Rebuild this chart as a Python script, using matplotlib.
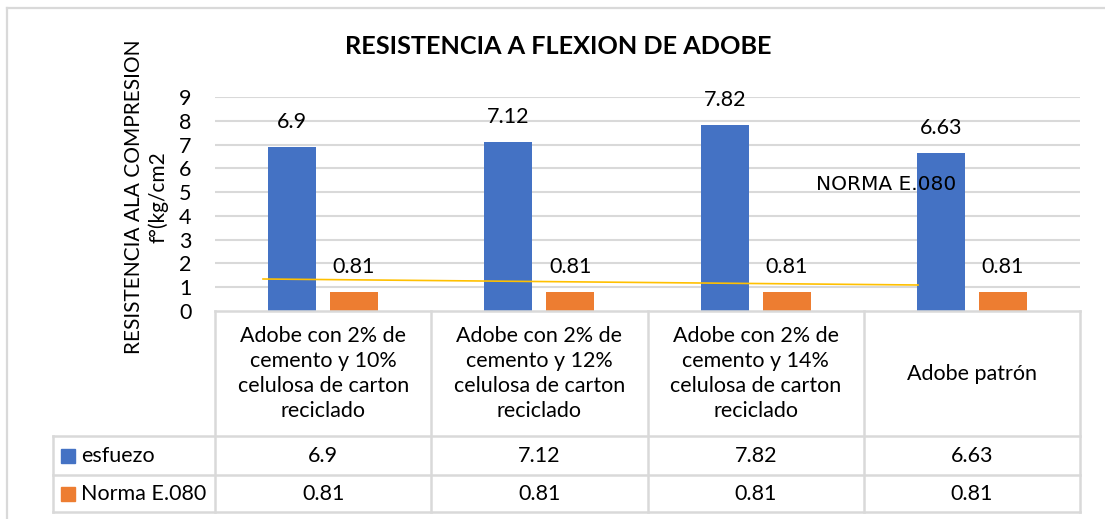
import matplotlib
matplotlib.use("Agg")
import matplotlib.pyplot as plt
from matplotlib.lines import Line2D
from matplotlib.patches import Rectangle

categories = [
    "Adobe con 2% de\ncemento y 10%\ncelulosa de carton\nreciclado",
    "Adobe con 2% de\ncemento y 12%\ncelulosa de carton\nreciclado",
    "Adobe con 2% de\ncemento y 14%\ncelulosa de carton\nreciclado",
    "Adobe patrón",
]
series_names = ["esfuezo", "Norma E.080"]
esfuerzo = [6.9, 7.12, 7.82, 6.63]
norma = [0.81, 0.81, 0.81, 0.81]
yticks = list(range(0, 10))

BLUE = "#4472C4"
ORANGE = "#ED7D31"
GRID = "#D9D9D9"
FONT = "Lato"

W, H = 1105, 519
fig = plt.figure(figsize=(W / 100, H / 100), dpi=100)
plt.rcParams["font.family"] = [FONT, "DejaVu Sans"]


def fx(x):
    return x / W


def fy(y):
    return 1 - y / H


# outer border
fig.add_artist(Line2D([fx(7), fx(7)], [fy(8), fy(519)], color=GRID, lw=1.6))
fig.add_artist(Line2D([fx(7), fx(1105)], [fy(8), fy(8)], color=GRID, lw=1.6))

# main axes
L, R, B, T = 215, 1080, 311, 97
ax = fig.add_axes([fx(L), fy(B), fx(R) - fx(L), fy(T) - fy(B)])
n = len(categories)
x = list(range(n))
bw = 0.222
off = 0.143
ax.bar([i - off for i in x], esfuerzo, width=bw, color=BLUE, zorder=3)
ax.bar([i + off for i in x], norma, width=bw, color=ORANGE, zorder=3)
for i in x:
    ax.annotate(f"{esfuerzo[i]:g}", (i - off, esfuerzo[i]), xytext=(0, 18),
                textcoords="offset points", ha="center", va="center", fontsize=15.5)
    ax.annotate(f"{norma[i]:g}", (i + off, norma[i]), xytext=(0, 18),
                textcoords="offset points", ha="center", va="center", fontsize=15.5)
ax.set_xlim(-0.5, n - 0.5)
ax.set_ylim(0, 9)
ax.set_yticks(yticks)
ax.set_yticklabels([str(t) for t in yticks], fontsize=15.5)
ax.tick_params(axis="y", length=0, pad=17)
ax.set_xticks([])
for t in yticks[1:]:
    ax.axhline(t, color=GRID, lw=1.5, zorder=1)
for s in ax.spines.values():
    s.set_visible(False)
ax.set_facecolor("none")

# title and y label
fig.text(fx(558), fy(47), "RESISTENCIA A FLEXION DE ADOBE", ha="center", va="center",
         fontsize=18.2, fontweight="bold")
fig.text(fx(146), fy(197), "RESISTENCIA ALA COMPRESION\nf°(kg/cm2", ha="center", va="center",
         rotation=90, fontsize=15, linespacing=1.25)

# annotation line and text (drawn shape)
fig.add_artist(Line2D([fx(263), fx(918)], [fy(279), fy(285)], color="#FFC000", lw=1.2, zorder=5))
fig.text(fx(886), fy(185), "NORMA E.080", ha="center", va="center", fontsize=14.5,
         family="DejaVu Sans", color="black", zorder=6)

# data table
colx = [L + (R - L) * i / n for i in range(n + 1)]
rows_y = [B, 436, 475, 512]
for cx in colx:
    fig.add_artist(Line2D([fx(cx), fx(cx)], [fy(B), fy(512)], color=GRID, lw=1.8))
fig.add_artist(Line2D([fx(L), fx(R)], [fy(B), fy(B)], color=GRID, lw=1.8))
for ry in rows_y[1:]:
    fig.add_artist(Line2D([fx(53), fx(R)], [fy(ry), fy(ry)], color=GRID, lw=1.8))
fig.add_artist(Line2D([fx(53), fx(53)], [fy(436), fy(512)], color=GRID, lw=1.8))

for i, c in enumerate(categories):
    cx = (colx[i] + colx[i + 1]) / 2
    fig.text(fx(cx), fy((B + 436) / 2), c, ha="center", va="center", fontsize=15.5,
             linespacing=1.33)

for r, (name, vals, col) in enumerate(zip(series_names, [esfuerzo, norma], [BLUE, ORANGE])):
    yc = (rows_y[r + 1] + rows_y[r + 2]) / 2
    fig.add_artist(Rectangle((fx(61), fy(yc + 7)), fx(14), 14 / H, color=col))
    fig.text(fx(81), fy(yc), name, ha="left", va="center", fontsize=15.5)
    for i, v in enumerate(vals):
        cx = (colx[i] + colx[i + 1]) / 2
        fig.text(fx(cx), fy(yc), f"{v:g}", ha="center", va="center", fontsize=15.5)

fig.savefig("out.png", dpi=100)
